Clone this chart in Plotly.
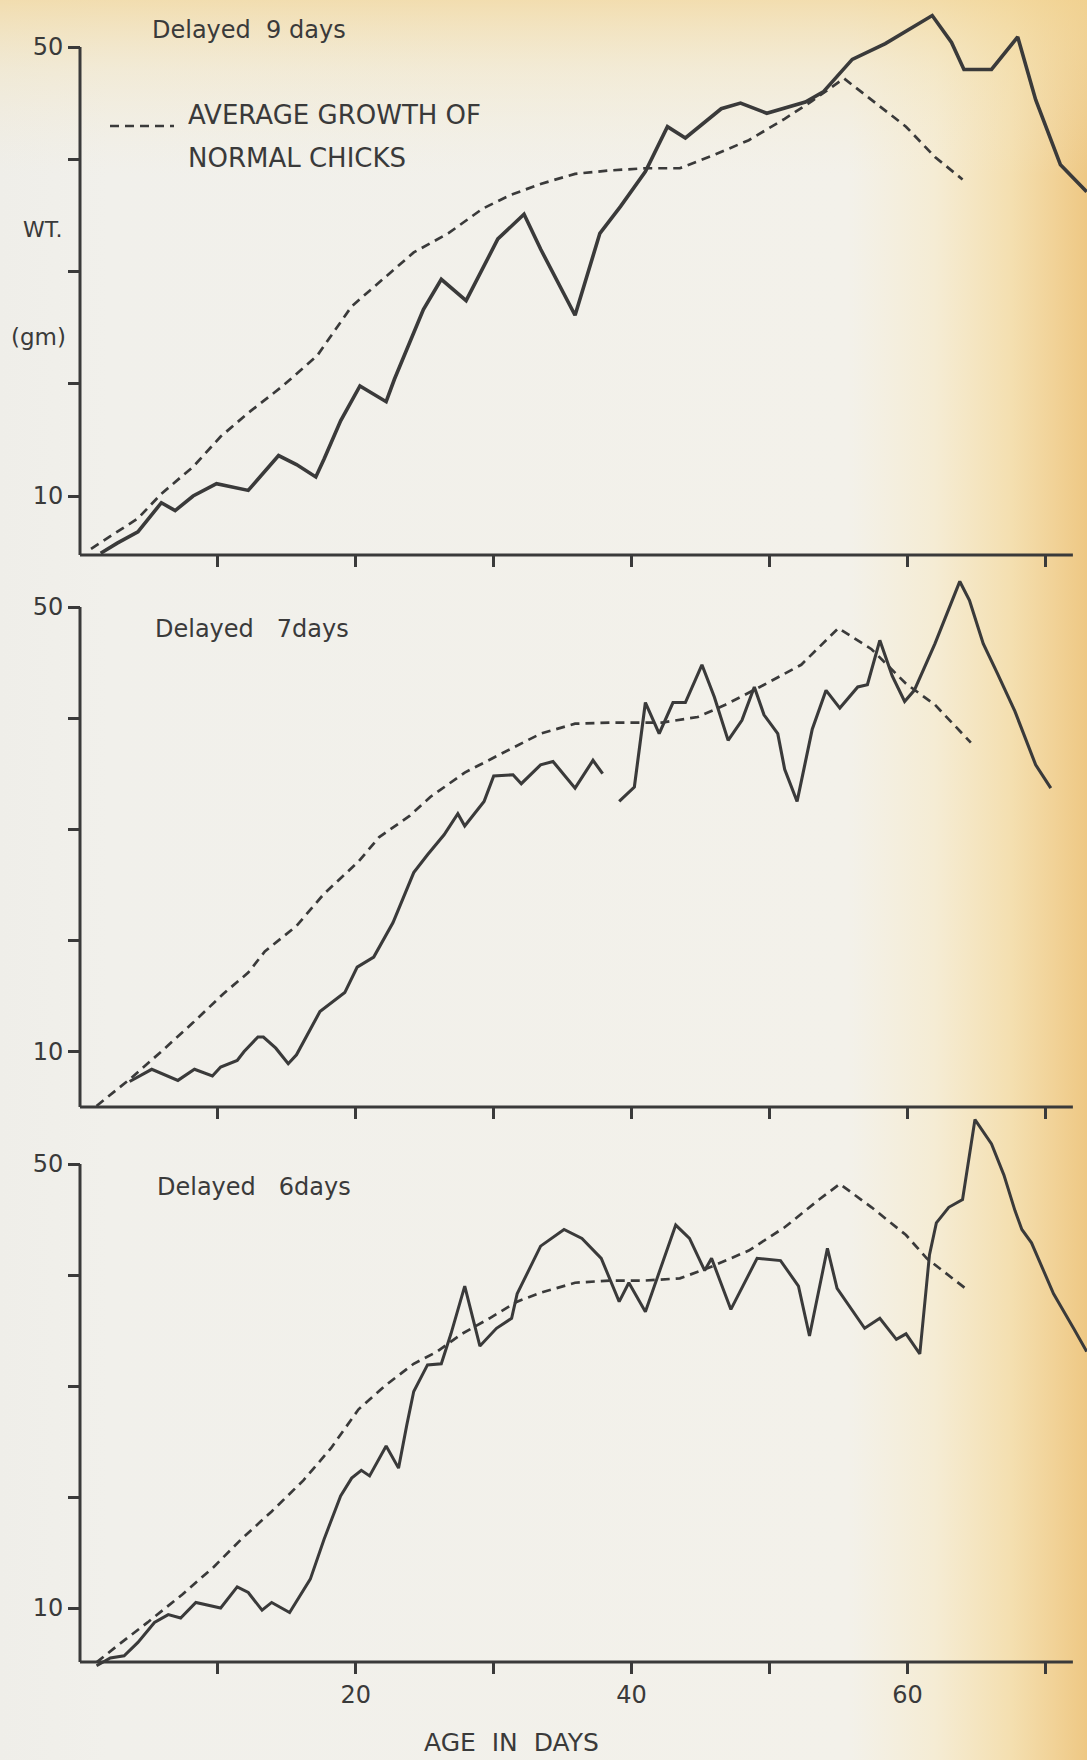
import base64
import plotly.graph_objects as go

# ---------------- data ----------------
# Panel 1: delayed 9 days
p1_days = [1.5, 2.7, 4.2, 5.9, 6.9, 8.2, 9.9, 12.2, 14.4, 15.7, 17.1, 17.7, 18.9, 20.3, 22.2, 22.8,
           24.9, 26.2, 28.0, 30.3, 32.2, 33.4, 35.9, 37.7, 39.2, 41.0, 42.6, 43.9, 46.5, 47.9, 49.8,
           51.1, 52.6, 53.9, 56.0, 58.4, 61.8, 63.2, 64.1, 66.1, 68.0, 69.3, 71.1, 73.0]
p1_wt = [4.9, 5.8, 6.8, 9.4, 8.7, 10.0, 11.1, 10.5, 13.6, 12.8, 11.7, 13.3, 16.7, 19.8, 18.4, 20.4,
         26.6, 29.3, 27.4, 32.9, 35.1, 32.0, 26.1, 33.4, 35.8, 38.9, 42.9, 41.9, 44.5, 45.0, 44.1,
         44.6, 45.1, 46.0, 48.9, 50.3, 52.8, 50.4, 48.0, 48.0, 50.9, 45.3, 39.5, 37.1]
p1n_days = [0.8, 2.4, 4.2, 5.9, 8.2, 10.2, 12.2, 14.7, 17.2, 19.7, 22.2, 24.2, 26.7, 29.2, 31.2, 33.4,
            35.9, 38.4, 41.0, 43.5, 46.0, 48.5, 51.1, 53.1, 55.4, 57.4, 59.9, 62.0, 64.0]
p1n_wt = [5.3, 6.6, 8.0, 10.2, 12.6, 15.3, 17.4, 19.8, 22.5, 26.9, 29.6, 31.7, 33.4, 35.6, 36.8, 37.8,
          38.7, 39.0, 39.2, 39.2, 40.4, 41.7, 43.6, 45.2, 47.2, 45.3, 42.9, 40.2, 38.2]

# Panel 2: delayed 7 days (None = break in the record)
p2_days = [3.6, 5.2, 7.1, 8.3, 9.6, 10.2, 11.4, 11.9, 12.9, 13.3, 14.2, 15.1, 15.7, 17.4, 19.2, 20.1,
           21.3, 22.7, 24.2, 25.2, 26.4, 27.4, 27.9, 29.3, 30.0, 31.4, 32.0, 33.4, 34.3, 35.9, 37.2,
           37.9, None, 39.1, 40.2, 41.0, 42.0, 43.0, 43.9, 45.1, 46.0, 47.0, 48.0, 48.9, 49.6, 50.6,
           51.1, 52.0, 53.1, 54.1, 55.1, 56.4, 57.1, 58.0, 58.9, 59.8, 60.5, 62.0, 63.8, 64.5, 65.5,
           66.5, 67.8, 69.3, 70.4]
p2_wt = [7.3, 8.4, 7.4, 8.4, 7.8, 8.6, 9.2, 10.0, 11.3, 11.3, 10.3, 8.9, 9.7, 13.6, 15.3, 17.6,
         18.5, 21.6, 26.1, 27.7, 29.5, 31.4, 30.3, 32.5, 34.8, 34.9, 34.1, 35.8, 36.1, 33.7, 36.2,
         35.0, None, 32.5, 33.8, 41.4, 38.6, 41.4, 41.4, 44.8, 41.9, 38.0, 39.8, 42.8, 40.3, 38.6,
         35.4, 32.5, 39.0, 42.5, 40.9, 42.8, 43.0, 47.0, 43.8, 41.5, 42.5, 46.7, 52.3, 50.6, 46.7,
         44.1, 40.6, 35.8, 33.7]
p2n_days = [1.2, 3.7, 5.9, 8.2, 10.4, 12.2, 13.4, 15.7, 17.7, 20.2, 21.7, 23.9, 25.4, 27.9, 30.4,
            33.4, 35.9, 38.4, 40.7, 42.2, 44.8, 46.8, 49.3, 52.3, 55.0, 57.4, 59.9, 62.0, 64.6]
p2n_wt = [5.1, 7.6, 10.0, 12.6, 15.2, 17.1, 19.0, 21.3, 24.2, 27.1, 29.3, 31.2, 32.9, 35.1, 36.7,
          38.6, 39.5, 39.6, 39.6, 39.6, 40.1, 41.2, 42.8, 44.8, 48.1, 46.2, 43.1, 41.2, 37.8]

# Panel 3: delayed 6 days
p3_days = [1.2, 2.2, 3.2, 4.2, 5.4, 6.4, 7.3, 8.4, 10.2, 11.4, 12.2, 13.2, 13.9, 15.2, 16.7, 17.7,
           18.9, 19.7, 20.4, 21.0, 22.2, 23.1, 23.7, 24.2, 25.2, 26.2, 26.9, 27.9, 29.0, 30.2, 31.3,
           31.7, 33.4, 35.1, 36.4, 37.8, 39.1, 39.8, 41.0, 43.2, 44.2, 45.3, 45.8, 47.2, 49.1, 50.8,
           52.1, 52.9, 54.2, 54.9, 56.9, 58.0, 59.2, 59.9, 60.9, 61.6, 62.1, 63.0, 64.0, 64.9, 66.1,
           67.0, 67.8, 68.3, 69.0, 70.6, 72.1, 73.0]
p3_wt = [4.8, 5.5, 5.7, 6.9, 8.7, 9.4, 9.1, 10.5, 10.0, 11.9, 11.4, 9.8, 10.5, 9.6, 12.6, 16.2,
         20.1, 21.7, 22.4, 21.9, 24.6, 22.6, 26.5, 29.5, 31.9, 32.0, 34.7, 39.0, 33.6, 35.2, 36.1,
         38.3, 42.6, 44.1, 43.3, 41.5, 37.6, 39.3, 36.7, 44.5, 43.3, 40.4, 41.5, 36.9, 41.5, 41.3,
         39.0, 34.5, 42.4, 38.8, 35.2, 36.1, 34.2, 34.7, 32.9, 41.8, 44.7, 46.1, 46.8, 54.0, 51.8,
         49.0, 45.8, 44.1, 42.9, 38.3, 35.1, 33.1]
p3n_days = [1.2, 2.7, 4.9, 7.4, 9.7, 11.7, 13.9, 16.2, 18.2, 20.2, 22.2, 24.2, 25.9, 27.7, 29.7,
            31.7, 33.4, 35.9, 38.4, 41.0, 43.5, 45.5, 48.5, 51.1, 53.6, 55.1, 57.4, 59.9, 61.4, 64.2]
p3n_wt = [5.1, 6.6, 8.7, 11.2, 13.7, 16.2, 18.7, 21.5, 24.4, 27.9, 30.1, 32.0, 33.1, 34.7, 36.1,
          37.6, 38.4, 39.3, 39.5, 39.5, 39.7, 40.6, 42.2, 44.3, 46.8, 48.2, 46.1, 43.6, 41.5, 38.8]

panel_titles = ["Delayed\u00a0\u00a09 days", "Delayed\u00a0\u00a0\u00a07days", "Delayed\u00a0\u00a0\u00a06days"]
y_tickvals = [10, 20, 30, 40, 50]
y_ticktext = ["10", "", "", "", "50"]
x_tickvals = [10, 20, 30, 40, 50, 60, 70]
x_ticktext_bottom = ["", "20", "", "40", "", "60", ""]
legend_lines = ["AVERAGE GROWTH OF", "NORMAL CHICKS"]
x_title = "AGE\u00a0\u00a0IN\u00a0\u00a0DAYS"

# ---------------- layout geometry (pixels) ----------------
W, H = 1087, 1760
INK = "#3a3a3a"
FONT = "DejaVu Sans"
X0PX, PXPD = 80.0, 13.79          # pixel of day 0, pixels per day
DOM_LEFT = 74.0
x_range = [(DOM_LEFT - X0PX) / PXPD, (W - X0PX) / PXPD]
x_axis_end = 72.0

# per panel: pixel of 50, pixel of 10, baseline pixel, top pixel of plot area
panels = [
    dict(p50=47.0, p10=496.0, base=555.0, top=0.0),
    dict(p50=607.0, p10=1051.5, base=1107.0, top=566.0),
    dict(p50=1164.0, p10=1608.0, base=1662.0, top=1106.0),
]
series = [
    (p1_days, p1_wt, p1n_days, p1n_wt, 3.6),
    (p2_days, p2_wt, p2n_days, p2n_wt, 3.1),
    (p3_days, p3_wt, p3n_days, p3n_wt, 3.0),
]
title_pos = [(150, 30), (153, 629), (155, 1187)]


def py2paper(py):
    return 1 - py / H


fig = go.Figure()
layout = dict(
    width=W, height=H, margin=dict(l=0, r=0, t=0, b=0),
    paper_bgcolor="#f1f0ea", plot_bgcolor="rgba(0,0,0,0)",
    showlegend=False, hovermode=False,
    font=dict(family=FONT, color=INK),
)
shapes = []
annotations = []

for i, (pn, (sd, sw, nd, nw, lw)) in enumerate(zip(panels, series), start=1):
    u = (pn["p10"] - pn["p50"]) / 40.0
    val = lambda py, pn=pn, u=u: 10 + (pn["p10"] - py) / u
    ybase = val(pn["base"])
    yr = [val(pn["base"] + 6), val(pn["top"])]
    xa = "x" if i == 1 else f"x{i}"
    ya = "y" if i == 1 else f"y{i}"
    fig.add_trace(go.Scatter(x=nd, y=nw, mode="lines", xaxis=xa, yaxis=ya,
                             line=dict(color=INK, width=2.7, dash="9px,6px"),
                             connectgaps=False))
    fig.add_trace(go.Scatter(x=sd, y=sw, mode="lines", xaxis=xa, yaxis=ya,
                             line=dict(color=INK, width=lw), connectgaps=False))
    layout["xaxis" if i == 1 else f"xaxis{i}"] = dict(
        domain=[DOM_LEFT / W, 1], range=x_range, anchor="free",
        position=py2paper(pn["base"]), showgrid=False, zeroline=False, showline=False,
        tickmode="array", tickvals=x_tickvals,
        ticktext=x_ticktext_bottom if i == 3 else [""] * len(x_tickvals),
        ticks="outside", ticklen=11, tickwidth=3, tickcolor=INK,
        tickfont=dict(family=FONT, size=24, color=INK), fixedrange=True,
    )
    layout["yaxis" if i == 1 else f"yaxis{i}"] = dict(
        domain=[py2paper(pn["base"] + 6), py2paper(pn["top"])], range=yr,
        anchor="free", position=X0PX / W, showgrid=False, zeroline=False, showline=False,
        tickmode="array", tickvals=y_tickvals, ticktext=y_ticktext,
        ticks="outside", ticklen=12, tickwidth=3, tickcolor=INK,
        tickfont=dict(family=FONT, size=24, color=INK), fixedrange=True,
    )
    # axis lines
    shapes.append(dict(type="line", xref=xa, yref=ya, x0=0, x1=0, y0=ybase, y1=50,
                       line=dict(color=INK, width=3)))
    shapes.append(dict(type="line", xref=xa, yref=ya, x0=0, x1=x_axis_end, y0=ybase, y1=ybase,
                       line=dict(color=INK, width=3)))
    tx, ty = title_pos[i - 1]
    annotations.append(dict(text=panel_titles[i - 1], xref="paper", yref="paper",
                            x=tx / W, y=py2paper(ty), xanchor="left", yanchor="middle",
                            showarrow=False, font=dict(family=FONT, size=24, color=INK)))

# y-axis label, legend and x title
annotations += [
    dict(text="WT.", xref="paper", yref="paper", x=43 / W, y=py2paper(229), xanchor="center",
         yanchor="middle", showarrow=False, font=dict(family=FONT, size=22, color=INK)),
    dict(text="(gm)", xref="paper", yref="paper", x=38 / W, y=py2paper(337), xanchor="center",
         yanchor="middle", showarrow=False, font=dict(family=FONT, size=23, color=INK)),
    dict(text=legend_lines[0], xref="paper", yref="paper", x=186 / W, y=py2paper(115),
         xanchor="left", yanchor="middle", showarrow=False,
         font=dict(family=FONT, size=26, color=INK)),
    dict(text=legend_lines[1], xref="paper", yref="paper", x=186 / W, y=py2paper(158),
         xanchor="left", yanchor="middle", showarrow=False,
         font=dict(family=FONT, size=26, color=INK)),
    dict(text=x_title, xref="paper", yref="paper", x=511 / W, y=py2paper(1742),
         xanchor="center", yanchor="middle", showarrow=False,
         font=dict(family=FONT, size=25, color=INK)),
]
shapes.append(dict(type="line", xref="paper", yref="paper", x0=110 / W, x1=174 / W,
                   y0=py2paper(126), y1=py2paper(126),
                   line=dict(color=INK, width=2.7, dash="9px,6px")))

# scanned-paper tint
svg = (
    "<svg xmlns='http://www.w3.org/2000/svg' width='1087' height='1760' preserveAspectRatio='none'>"
    "<defs>"
    "<linearGradient id='h' x1='0' y1='0' x2='1' y2='0'>"
    "<stop offset='0' stop-color='#efeee9'/>"
    "<stop offset='0.1' stop-color='#f1f0eb'/>"
    "<stop offset='0.78' stop-color='#f3f1ea'/>"
    "<stop offset='0.86' stop-color='#f5ecd4'/>"
    "<stop offset='0.93' stop-color='#f4dfb0'/>"
    "<stop offset='0.97' stop-color='#f1d297'/>"
    "<stop offset='1' stop-color='#eec884'/>"
    "</linearGradient>"
    "<linearGradient id='v' x1='0' y1='0' x2='0' y2='1'>"
    "<stop offset='0' stop-color='#f2d596' stop-opacity='0.7'/>"
    "<stop offset='0.04' stop-color='#f3e0b0' stop-opacity='0.35'/>"
    "<stop offset='0.1' stop-color='#f3ebd3' stop-opacity='0'/>"
    "</linearGradient>"
    "</defs>"
    "<rect width='1087' height='1760' fill='url(#h)'/>"
    "<rect width='1087' height='1760' fill='url(#v)'/>"
    "</svg>"
)
src = "data:image/svg+xml;base64," + base64.b64encode(svg.encode()).decode()
layout["images"] = [dict(source=src, xref="paper", yref="paper", x=0, y=1, sizex=1, sizey=1,
                         xanchor="left", yanchor="top", sizing="stretch", layer="below")]
layout["shapes"] = shapes
layout["annotations"] = annotations
fig.update_layout(**layout)
fig.write_html("out.html", config={"displayModeBar": False, "staticPlot": True},
               post_script="document.body.style.margin='0px';document.body.style.overflow='hidden';")
